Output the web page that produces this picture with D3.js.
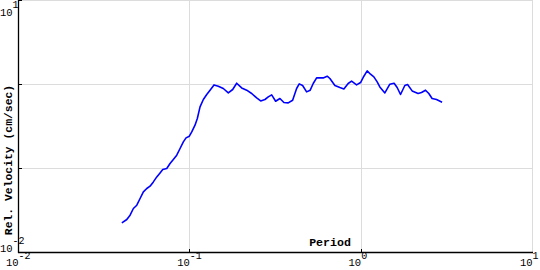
<!DOCTYPE html>
<html>
<head>
<meta charset="utf-8">
<script src="https://cdn.jsdelivr.net/npm/d3@7"></script>
<style>
  html, body { margin: 0; padding: 0; background: #fff; }
  svg { display: block; }
  text { font-family: "Liberation Mono", "DejaVu Sans Mono", monospace; fill: #000; }
</style>
</head>
<body>
<svg id="chart" width="540" height="270"></svg>
<script>
// Period (s)
const periods = [
  0.0401, 0.04287, 0.04479, 0.04683, 0.04902, 0.05124, 0.05356, 0.05606, 0.05859, 0.06125,
  0.06412, 0.06701, 0.0695, 0.07332, 0.07664, 0.08012, 0.08386, 0.0877, 0.09166, 0.09502,
  0.09934, 0.1026, 0.1072, 0.1106, 0.1147, 0.1199, 0.1255, 0.1312, 0.1384, 0.1466,
  0.1568, 0.1677, 0.1779, 0.1877, 0.2007, 0.2147, 0.2296, 0.2455, 0.2591, 0.2745,
  0.2869, 0.3004, 0.3168, 0.3356, 0.3541, 0.3752, 0.3981, 0.42, 0.435, 0.4553,
  0.4804, 0.5042, 0.525, 0.5495, 0.6003, 0.6334, 0.6569, 0.7024, 0.7514, 0.7926,
  0.8398, 0.879, 0.9401, 0.992, 1.037, 1.084, 1.134, 1.186, 1.24, 1.285,
  1.375, 1.47, 1.557, 1.622, 1.697, 1.798, 1.865, 1.984, 2.149, 2.25,
  2.374, 2.482, 2.594, 2.753, 2.967
];
// Relative velocity (cm/sec)
const velocities = [
  0.02251, 0.02471, 0.0278, 0.03341, 0.03656, 0.04394, 0.05265, 0.05779, 0.06154, 0.06926,
  0.07943, 0.08863, 0.0973, 0.1, 0.1147, 0.128, 0.144, 0.173, 0.2074, 0.2313,
  0.2424, 0.2728, 0.3278, 0.3937, 0.5413, 0.6629, 0.7603, 0.8555, 0.989, 0.9546,
  0.8962, 0.7943, 0.872, 1.036, 0.9109, 0.8555, 0.7815, 0.6926, 0.6379, 0.6629,
  0.7117, 0.7519, 0.6326, 0.6813, 0.6105, 0.6039, 0.6501, 0.8962, 1.017, 0.973,
  0.8165, 0.8555, 1.028, 1.198, 1.198, 1.255, 1.179, 0.973, 0.921, 0.8863,
  1.028, 1.095, 0.989, 1.056, 1.255, 1.452, 1.326, 1.232, 1.074, 0.9363,
  0.7943, 1.008, 1.036, 0.921, 0.7603, 0.973, 1.0, 0.8391, 0.7815, 0.8029,
  0.8555, 0.7815, 0.6813, 0.6629, 0.6154
];
const xTickValues = [0.01, 0.1, 1, 10];
const xTickExps = ["-2", "-1", "0", "1"];
const yTickValues = [0.01, 0.1, 1, 10];
const yTickExps = ["-2", "-1", "0", "1"];
const xTitle = "Period";
const yTitle = "Rel. Velocity (cm/sec)";

const data = periods.map((p, i) => ({ p, v: velocities[i] }));

const svg = d3.select("#chart");
const x = d3.scaleLog().domain([0.01, 10]).range([18.5, 532.5]);
const y = d3.scaleLog().domain([0.01, 10]).range([252.5, 0.5]);
const snap = v => Math.floor(v) + 0.5;

// grid
const grid = svg.append("g").attr("stroke", "#dcdcdc").attr("stroke-width", 1);
xTickValues.slice(1).forEach(t => {
  grid.append("line").attr("x1", snap(x(t))).attr("x2", snap(x(t)))
    .attr("y1", 0).attr("y2", 252);
});
yTickValues.slice(1).forEach(t => {
  grid.append("line").attr("x1", 19).attr("x2", 533)
    .attr("y1", snap(y(t))).attr("y2", snap(y(t)));
});

// axes lines
svg.append("line").attr("x1", 18.5).attr("x2", 18.5).attr("y1", 0).attr("y2", 253)
  .attr("stroke", "#000").attr("stroke-width", 1.3);
svg.append("line").attr("x1", 18).attr("x2", 533).attr("y1", 252.5).attr("y2", 252.5)
  .attr("stroke", "#000").attr("stroke-width", 1.3);
// small inward ticks
yTickValues.slice(1).forEach(t => {
  svg.append("line").attr("x1", 18).attr("x2", 22)
    .attr("y1", snap(y(t))).attr("y2", snap(y(t))).attr("stroke", "#000");
});
xTickValues.slice(1, 3).forEach(t => {
  svg.append("line").attr("x1", snap(x(t))).attr("x2", snap(x(t)))
    .attr("y1", 253).attr("y2", 249).attr("stroke", "#000");
});

// x tick labels
xTickValues.forEach((t, i) => {
  const px = x(t);
  svg.append("text").attr("x", px).attr("y", 266).attr("text-anchor", "end")
    .attr("font-size", 10.5).text("10");
  svg.append("text").attr("x", px).attr("y", 259).attr("text-anchor", "start")
    .attr("font-size", 10).text(xTickExps[i]);
});
// y tick labels (only ends shown)
[[0, 251.5], [3, 15.5]].forEach(([i, by]) => {
  svg.append("text").attr("x", 12.5).attr("y", by).attr("text-anchor", "end")
    .attr("font-size", 10.5).text("10");
  svg.append("text").attr("x", 12.5).attr("y", by - 8).attr("text-anchor", "start")
    .attr("font-size", 10).text(yTickExps[i]);
});

// titles
svg.append("text").attr("x", 330).attr("y", 245.5).attr("text-anchor", "middle")
  .attr("font-size", 11.6).attr("font-weight", "bold").text(xTitle);
svg.append("text").attr("transform", "translate(11.5,160) rotate(-90)")
  .attr("text-anchor", "middle").attr("font-size", 11.4).attr("font-weight", "bold")
  .text(yTitle);

// line
const line = d3.line().x(d => x(d.p)).y(d => y(d.v));
svg.append("path").datum(data).attr("d", line)
  .attr("fill", "none").attr("stroke", "#0000ff").attr("stroke-width", 1.6)
  .attr("stroke-linejoin", "round");
</script>
</body>
</html>
